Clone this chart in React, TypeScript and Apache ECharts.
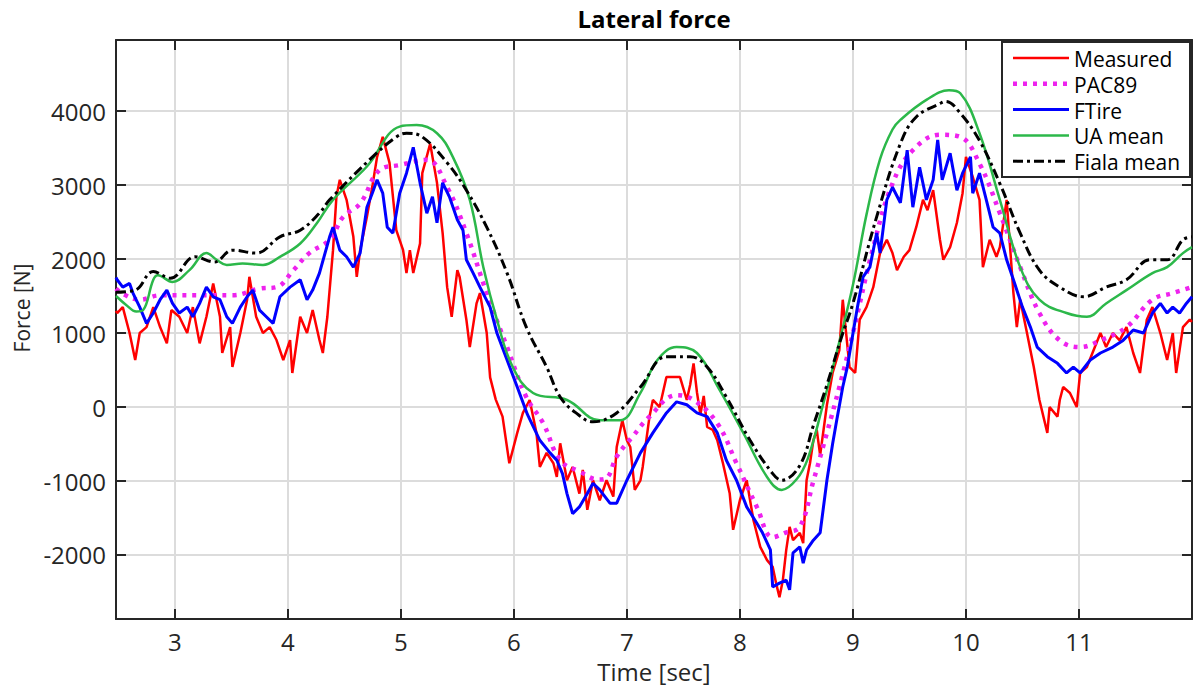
import React, { useEffect, useRef } from "react";
import * as echarts from "echarts";

const xTicks = [3, 4, 5, 6, 7, 8, 9, 10, 11];
const yTicks = [-2000, -1000, 0, 1000, 2000, 3000, 4000];
const seriesNames = ["Measured", "PAC89", "FTire", "UA mean", "Fiala mean"];

const measured: [number, number][] = [
  [2.48, 1300], [2.49, 1270], [2.54, 1350], [2.6, 1000], [2.65, 635], [2.69, 1000], [2.75, 1080], [2.81, 1350],
  [2.87, 1080], [2.93, 860], [2.97, 1310], [3.04, 1220], [3.11, 1000], [3.16, 1350], [3.22, 860], [3.28, 1220],
  [3.34, 1670], [3.4, 1220], [3.42, 730], [3.49, 1080], [3.51, 540], [3.58, 1000], [3.64, 1450], [3.66, 1760],
  [3.72, 1220], [3.78, 1000], [3.84, 1080], [3.9, 905], [3.96, 635], [4.02, 905], [4.04, 460], [4.11, 1220],
  [4.17, 1000], [4.22, 1310], [4.28, 905], [4.31, 730], [4.35, 1220], [4.4, 2120], [4.43, 2840], [4.46, 3070],
  [4.52, 2800], [4.58, 2300], [4.61, 1760], [4.64, 2120], [4.7, 2570], [4.75, 3000], [4.79, 3380], [4.84, 3650],
  [4.9, 3300], [4.96, 2390], [5.02, 2120], [5.05, 1810], [5.08, 2120], [5.11, 1810], [5.17, 2210], [5.19, 3160],
  [5.26, 3560], [5.28, 3380], [5.32, 3030], [5.37, 2350], [5.41, 1620], [5.45, 1220], [5.5, 1850], [5.52, 1760],
  [5.58, 1180], [5.61, 810], [5.67, 1400], [5.7, 1540], [5.76, 1000], [5.79, 400], [5.84, 100], [5.9, -130],
  [5.96, -760], [6.03, -350], [6.08, -80], [6.14, 95], [6.2, -350], [6.23, -810], [6.29, -620], [6.35, -760],
  [6.38, -945], [6.41, -490], [6.47, -990], [6.52, -810], [6.58, -1170], [6.61, -850], [6.65, -1390], [6.7, -990],
  [6.76, -1260], [6.82, -990], [6.88, -1210], [6.91, -540], [6.96, -180], [7.0, -450], [7.03, -540], [7.07, -1120],
  [7.12, -990], [7.14, -810], [7.2, -130], [7.23, 95], [7.29, 0], [7.35, 405], [7.4, 405], [7.47, 405],
  [7.53, 95], [7.56, 300], [7.59, 590], [7.62, 200], [7.65, -100], [7.68, 150], [7.71, -270], [7.76, -310],
  [7.8, -450], [7.85, -760], [7.91, -1170], [7.94, -1660], [8.0, -1260], [8.06, -990], [8.12, -1530], [8.18, -1890],
  [8.24, -2070], [8.29, -2160], [8.32, -2380], [8.35, -2570], [8.38, -2340], [8.41, -1930], [8.44, -1620], [8.47, -1800],
  [8.53, -1700], [8.56, -1840], [8.59, -990], [8.62, -760], [8.65, -450], [8.68, -310], [8.71, -650], [8.77, 30],
  [8.82, 460], [8.88, 770], [8.91, 1450], [8.97, 540], [9.02, 460], [9.06, 1180], [9.12, 1350], [9.18, 1620],
  [9.24, 2080], [9.3, 2260], [9.35, 2080], [9.39, 1850], [9.45, 2030], [9.5, 2120], [9.56, 2430], [9.62, 2800],
  [9.66, 2660], [9.71, 2930], [9.77, 2260], [9.8, 1990], [9.86, 2160], [9.92, 2490], [9.97, 2890], [10.0, 3380],
  [10.06, 3110], [10.12, 2800], [10.15, 1890], [10.21, 2260], [10.27, 2030], [10.3, 2160], [10.36, 2800], [10.42, 1540],
  [10.45, 1080], [10.48, 1450], [10.54, 1000], [10.6, 540], [10.65, 95], [10.72, -350], [10.74, 0], [10.81, -130],
  [10.83, 95], [10.86, 270], [10.92, 190], [10.98, 0], [11.01, 460], [11.07, 540], [11.13, 770], [11.19, 1000],
  [11.24, 810], [11.3, 1000], [11.36, 900], [11.42, 1080], [11.48, 730], [11.54, 460], [11.6, 1180], [11.65, 1350],
  [11.72, 1000], [11.78, 635], [11.83, 1000], [11.86, 460], [11.92, 1080], [11.98, 1180], [12.0, 1150],
];

const pac89: [number, number][] = [
  [2.48, 1600], [2.55, 1520], [2.69, 1450], [2.87, 1510], [3.22, 1510], [3.51, 1510], [3.75, 1600], [3.9, 1620],
  [4.05, 1850], [4.19, 2080], [4.37, 2260], [4.49, 2570], [4.64, 2750], [4.81, 3200], [4.99, 3270], [5.23, 3340],
  [5.41, 2970], [5.58, 2350], [5.76, 1540], [5.94, 810], [6.11, 135], [6.26, -220], [6.41, -720], [6.58, -870],
  [6.75, -980], [6.82, -960], [6.91, -670], [7.05, -400], [7.2, -130], [7.44, 160], [7.59, 95], [7.8, -220],
  [7.97, -760], [8.15, -1350], [8.29, -1760], [8.4, -1700], [8.53, -1620], [8.65, -1000], [8.77, -350], [8.88, 270],
  [9.0, 1000], [9.18, 2160], [9.35, 3020], [9.53, 3470], [9.77, 3680], [9.95, 3650], [10.12, 3290], [10.3, 2620],
  [10.48, 1890], [10.65, 1270], [10.83, 900], [11.01, 810], [11.19, 900], [11.42, 1080], [11.65, 1450], [11.83, 1540],
  [12.0, 1620],
];

const ftire: [number, number][] = [
  [2.48, 1750], [2.49, 1720], [2.54, 1620], [2.6, 1670], [2.63, 1540], [2.69, 1350], [2.75, 1130], [2.81, 1270],
  [2.87, 1450], [2.93, 1580], [2.98, 1400], [3.04, 1270], [3.11, 1350], [3.16, 1220], [3.22, 1400], [3.28, 1620],
  [3.34, 1490], [3.4, 1450], [3.46, 1220], [3.51, 1130], [3.58, 1350], [3.64, 1490], [3.69, 1580], [3.75, 1310],
  [3.81, 1220], [3.87, 1130], [3.93, 1490], [4.02, 1620], [4.11, 1720], [4.17, 1450], [4.22, 1580], [4.28, 1810],
  [4.37, 2300], [4.4, 2430], [4.46, 2120], [4.52, 2030], [4.58, 1890], [4.64, 2080], [4.7, 2700], [4.75, 2900],
  [4.79, 3070], [4.84, 2890], [4.88, 2430], [4.93, 2350], [4.99, 2890], [5.05, 3160], [5.11, 3510], [5.17, 3030],
  [5.23, 2620], [5.28, 2840], [5.32, 2490], [5.37, 3030], [5.43, 2840], [5.5, 2530], [5.55, 2390], [5.58, 1990],
  [5.64, 1810], [5.7, 1620], [5.79, 1350], [5.85, 1000], [5.94, 635], [6.03, 270], [6.12, -100], [6.23, -450],
  [6.32, -620], [6.38, -720], [6.43, -900], [6.47, -1170], [6.52, -1440], [6.58, -1350], [6.65, -1170], [6.7, -1030],
  [6.76, -1120], [6.85, -1300], [6.91, -1300], [7.0, -990], [7.12, -620], [7.23, -350], [7.35, -80], [7.44, 70],
  [7.53, 30], [7.62, -80], [7.71, -130], [7.8, -350], [7.88, -720], [7.97, -990], [8.06, -1350], [8.15, -1570],
  [8.2, -1700], [8.27, -1930], [8.29, -2430], [8.35, -2380], [8.41, -2340], [8.44, -2470], [8.47, -1970], [8.53, -1890],
  [8.56, -2110], [8.59, -1930], [8.65, -1800], [8.71, -1700], [8.77, -990], [8.82, -500], [8.86, -150], [8.91, 270],
  [8.95, 540], [9.04, 1350], [9.09, 1760], [9.15, 1890], [9.21, 2350], [9.24, 2080], [9.3, 2800], [9.35, 2970],
  [9.42, 2760], [9.48, 3470], [9.53, 2700], [9.59, 3240], [9.65, 2800], [9.71, 3070], [9.75, 3610], [9.79, 3070],
  [9.86, 3430], [9.92, 2930], [9.97, 3160], [10.04, 3380], [10.06, 2890], [10.12, 3160], [10.18, 2800], [10.24, 2430],
  [10.3, 2350], [10.36, 1990], [10.42, 1720], [10.5, 1350], [10.57, 1080], [10.63, 810], [10.72, 680], [10.81, 590],
  [10.89, 460], [10.95, 540], [11.01, 460], [11.1, 635], [11.19, 730], [11.3, 810], [11.39, 900], [11.48, 1040],
  [11.57, 1000], [11.65, 1270], [11.72, 1400], [11.78, 1270], [11.83, 1350], [11.89, 1270], [11.95, 1400], [12.0, 1490],
];

const uaMean: [number, number][] = [
  [2.48, 1500], [2.57, 1380], [2.66, 1290], [2.72, 1310], [2.81, 1720], [2.85, 1780], [2.98, 1690], [3.13, 1850],
  [3.28, 2080], [3.37, 1990], [3.46, 1920], [3.6, 1940], [3.78, 1920], [3.93, 2030], [4.11, 2210], [4.26, 2490],
  [4.4, 2800], [4.7, 3250], [4.99, 3790], [5.14, 3810], [5.32, 3700], [5.46, 3380], [5.61, 2800], [5.73, 1890],
  [5.85, 1180], [5.99, 540], [6.17, 190], [6.47, 95], [6.76, -180], [6.94, -180], [7.12, 190], [7.27, 635],
  [7.44, 810], [7.62, 730], [7.82, 230], [8.03, -350], [8.24, -945], [8.37, -1120], [8.5, -980], [8.6, -700],
  [8.73, 0], [8.85, 700], [9.0, 1650], [9.12, 2600], [9.24, 3350], [9.35, 3750], [9.42, 3880], [9.65, 4150],
  [9.85, 4280], [9.95, 4240], [10.12, 3700], [10.3, 2800], [10.48, 1890], [10.65, 1450], [10.89, 1270], [11.07, 1220],
  [11.24, 1400], [11.42, 1580], [11.65, 1810], [11.78, 1890], [11.92, 2080], [12.0, 2160],
];

const fialaMean: [number, number][] = [
  [2.48, 1550], [2.65, 1580], [2.81, 1830], [2.96, 1740], [3.18, 2030], [3.35, 1960], [3.51, 2120], [3.72, 2080],
  [3.93, 2300], [4.11, 2390], [4.28, 2620], [4.37, 2800], [4.75, 3380], [4.96, 3650], [5.05, 3700], [5.19, 3650],
  [5.41, 3300], [5.58, 2930], [5.76, 2430], [5.94, 1810], [6.11, 1080], [6.29, 540], [6.41, 135], [6.55, -80],
  [6.7, -200], [6.91, -80], [7.12, 270], [7.35, 680], [7.56, 680], [7.71, 540], [7.88, 135], [8.09, -450],
  [8.29, -900], [8.37, -990], [8.53, -790], [8.65, -250], [8.77, 300], [8.9, 950], [9.0, 1400], [9.21, 2570],
  [9.42, 3560], [9.56, 3920], [9.77, 4100], [9.82, 4130], [9.95, 3970], [10.12, 3600], [10.3, 3020], [10.48, 2350],
  [10.65, 1850], [10.83, 1620], [11.04, 1490], [11.24, 1620], [11.42, 1720], [11.63, 1990], [11.78, 1990], [11.92, 2260],
  [12.0, 2300],
];

const FONT = "'Open Sans', 'Noto Sans', sans-serif";
const AXIS = "#262626";
const X_MIN = 2.48;
const X_MAX = 12;
const Y_MIN = -2865;
const Y_MAX = 4960;

// line styles, in the order of seriesNames
const lineStyles: any[] = [
  { color: "#ff0000", width: 2.5, type: "solid" },
  { color: "#ee22ee", width: 4.5, type: [4, 6] },
  { color: "#0000ff", width: 3, type: "solid" },
  { color: "#2cb84a", width: 2.5, type: "solid" },
  { color: "#000000", width: 3, type: [10, 4, 3, 4] },
];
const seriesData = [measured, pac89, ftire, uaMean, fialaMean];
const smoothFlags = [false, 0.4, false, 0.4, 0.4];

export default function App() {
  const ref = useRef<HTMLDivElement>(null);
  useEffect(() => {
    const chart = echarts.init(ref.current as HTMLDivElement, null, { renderer: "svg" });
    const frameAxis = {
      axisLine: { show: true, onZero: false, lineStyle: { color: AXIS, width: 2 } },
    };
    const tick = (len: number, values: number[]) => ({
      show: true, inside: true, length: len, customValues: values, lineStyle: { color: AXIS, width: 2 },
    });

    // manual legend (box + line samples + names)
    const LX = 1002, LY = 42, LW = 188, LH = 135, ROW0 = 58, ROWH = 25.8;
    const legendGraphics: any[] = [
      {
        type: "rect", z: 100,
        shape: { x: LX, y: LY, width: LW, height: LH },
        style: { fill: "#ffffff", stroke: AXIS, lineWidth: 2 },
      },
    ];
    seriesNames.forEach((name, i) => {
      const ls = lineStyles[i];
      const y = ROW0 + i * ROWH;
      legendGraphics.push({
        type: "line", z: 101,
        shape: { x1: 1013, y1: y, x2: 1069, y2: y },
        style: {
          stroke: ls.color, lineWidth: ls.width,
          lineDash: Array.isArray(ls.type) ? ls.type : null,
        },
      });
      legendGraphics.push({
        type: "text", z: 101, x: 1074, y: y + 1,
        style: {
          text: name, fill: "#000", font: `21px ${FONT}`, lineHeight: 22,
          textAlign: "left", textVerticalAlign: "middle",
        },
      });
    });

    const option: any = {
      animation: false,
      backgroundColor: "#ffffff",
      grid: { left: 116, top: 40, right: 2, bottom: 69, containLabel: false },
      xAxis: [
        {
          type: "value", min: X_MIN, max: X_MAX, position: "bottom", ...frameAxis,
          axisTick: tick(10, xTicks),
          axisLabel: { customValues: xTicks, fontSize: 24, color: AXIS, fontFamily: FONT, margin: 10, formatter: (v: number) => String(v) },
          splitLine: { show: true, customValues: xTicks, lineStyle: { color: "#dcdcdc", width: 2 } },
        },
        {
          type: "value", min: X_MIN, max: X_MAX, position: "top", ...frameAxis,
          axisTick: tick(10, xTicks),
          axisLabel: { show: false },
          splitLine: { show: false },
        },
      ],
      yAxis: [
        {
          type: "value", min: Y_MIN, max: Y_MAX, position: "left", ...frameAxis,
          axisTick: tick(10, yTicks),
          axisLabel: { customValues: yTicks, fontSize: 24, color: AXIS, fontFamily: FONT, margin: 10, formatter: (v: number) => String(v) },
          splitLine: { show: true, customValues: yTicks, lineStyle: { color: "#dcdcdc", width: 2 } },
        },
        {
          type: "value", min: Y_MIN, max: Y_MAX, position: "right", ...frameAxis,
          axisTick: tick(10, yTicks),
          axisLabel: { show: false },
          splitLine: { show: false },
        },
      ],
      graphic: [
        {
          type: "text", x: 654, y: 18,
          style: { text: "Lateral force", fill: "#000", font: `bold 24px ${FONT}`, textAlign: "center", textVerticalAlign: "middle" },
        },
        {
          type: "text", x: 654, y: 671,
          style: { text: "Time [sec]", fill: AXIS, font: `24px ${FONT}`, textAlign: "center", textVerticalAlign: "middle" },
        },
        {
          type: "text", x: 22, y: 308, rotation: Math.PI / 2,
          style: { text: "Force [N]", fill: AXIS, font: `21px ${FONT}`, textAlign: "center", textVerticalAlign: "middle" },
        },
        ...legendGraphics,
      ],
      series: seriesNames.map((name, i) => ({
        name,
        type: "line",
        data: seriesData[i],
        showSymbol: false,
        symbol: "none",
        smooth: smoothFlags[i],
        lineStyle: lineStyles[i],
        itemStyle: { color: lineStyles[i].color },
      })),
    };
    chart.setOption(option);
    return () => chart.dispose();
  }, []);
  return (
    <div
      ref={ref}
      style={{ position: "fixed", left: 0, top: 0, width: 1194, height: 688, background: "#ffffff" }}
    />
  );
}
